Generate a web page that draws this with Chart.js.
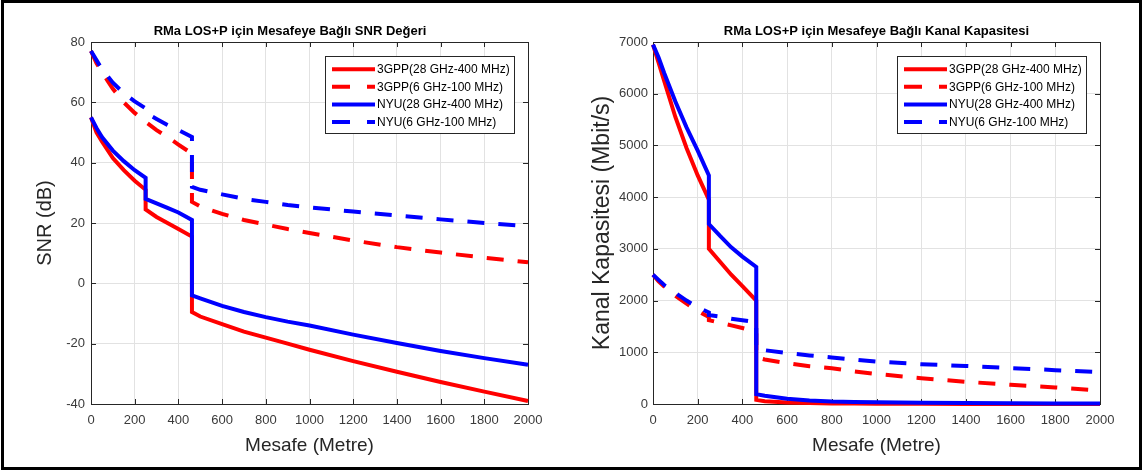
<!DOCTYPE html>
<html>
<head>
<meta charset="utf-8">
<script src="https://cdn.jsdelivr.net/npm/chart.js@4.4.0/dist/chart.umd.min.js"></script>
<style>
  html, body { margin: 0; padding: 0; background: #fff; }
  #sayfa { position: relative; width: 1144px; height: 471px; overflow: hidden; background: #fff; }
  #cerceve { position: absolute; left: 1px; top: 0; width: 1141px; height: 470px; box-sizing: border-box; border: 3px solid #000; pointer-events: none; }
  .kutu { position: absolute; top: 0; height: 471px; }
  #solKutu { left: 0; width: 580px; }
  #sagKutu { left: 572px; width: 572px; }
</style>
</head>
<body>
<div id="sayfa">
  <div class="kutu" id="solKutu"><canvas id="snrChart"></canvas></div>
  <div class="kutu" id="sagKutu"><canvas id="kapasiteChart"></canvas></div>
  <div id="cerceve"></div>
</div>
<script>
// mesafe (m) - 250 ve 462'de sicrama oldugu icin tekrar var
const mesafe = [0, 25, 50, 100, 150, 200, 250, 250, 300, 350, 400, 462, 462, 500, 600, 700, 800, 900, 1000, 1200, 1400, 1600, 1800, 2000];

// SNR (dB)
const snr3gpp28 = [55, 50, 47, 41.5, 37.5, 34, 31, 24.5, 22, 20, 18, 15.5, -9.5, -11, -13.5, -16, -18, -20, -22, -25.8, -29.3, -32.7, -35.9, -39];
const snr3gpp6 = [77, 73, 70, 64.5, 60, 56.5, 53.5, 53.5, 50.8, 48.5, 46, 43, 27, 25.5, 23, 21, 19.5, 18, 16.7, 14.2, 12, 10.2, 8.5, 7];
const snrNyu28 = [55, 51.5, 48.5, 44, 40.5, 37.5, 35, 28, 26.5, 25, 23.5, 21, -4, -5, -7.5, -9.5, -11.2, -12.7, -14, -17, -19.8, -22.4, -24.8, -27];
const snrNyu6 = [77, 74, 71, 66.5, 63, 60.3, 58, 56.5, 54.5, 52.5, 50.8, 48.5, 32, 31, 29.5, 28, 27, 26, 25.2, 23.8, 22.5, 21.2, 20, 19];

// Kanal kapasitesi (Mbit/s)
const kap3gpp28 = [6950, 6600, 6250, 5550, 4950, 4420, 3950, 3000, 2750, 2500, 2280, 2000, 80, 55, 30, 18, 12, 8, 5, 3, 2, 1, 1, 0.5];
const kap3gpp6 = [2500, 2370, 2270, 2090, 1940, 1800, 1680, 1620, 1570, 1520, 1470, 1400, 900, 860, 790, 730, 690, 630, 580, 500, 430, 370, 320, 260];
const kapNyu28 = [6950, 6700, 6400, 5850, 5350, 4900, 4420, 3480, 3250, 3030, 2850, 2650, 190, 160, 100, 70, 50, 40, 32, 22, 17, 13, 11, 9];
const kapNyu6 = [2500, 2400, 2300, 2150, 2000, 1870, 1770, 1720, 1690, 1650, 1620, 1580, 1060, 1040, 985, 940, 900, 860, 820, 770, 735, 695, 655, 615];

const etiketler = ['3GPP(28 GHz-400 MHz)', '3GPP(6 GHz-100 MHz)', 'NYU(28 GHz-400 MHz)', 'NYU(6 GHz-100 MHz)'];
const mesafeTikleri = [0, 200, 400, 600, 800, 1000, 1200, 1400, 1600, 1800, 2000];
const snrTikleri = [-40, -20, 0, 20, 40, 60, 80];
const kapasiteTikleri = [0, 1000, 2000, 3000, 4000, 5000, 6000, 7000];

const renkler = ['#ff0000', '#ff0000', '#0000ff', '#0000ff'];
const kesikli = [false, true, false, true];
const yazi = '"Liberation Sans", Arial, Helvetica, sans-serif';

Chart.defaults.font.family = yazi;

function seriData(ys) {
    return mesafe.map((x, i) => ({ x: x, y: ys[i] }));
}

function datasetler(seriler) {
    return seriler.map((ys, i) => ({
        label: etiketler[i],
        data: seriData(ys),
        borderColor: renkler[i],
        borderWidth: 4,
        borderDash: kesikli[i] ? [17, 14] : [],
        pointRadius: 0,
        tension: 0,
        clip: 6,
        order: 4 - i
    }));
}

// MATLAB tarzi kutu, iceri bakan tikler ve legend
const matlabKutu = {
    id: 'matlabKutu',
    beforeDatasetsDraw(chart) {
        const { ctx, chartArea: a, scales } = chart;
        ctx.save();
        ctx.strokeStyle = '#262626';
        ctx.lineWidth = 1;
        ctx.strokeRect(Math.round(a.left) + 0.5, Math.round(a.top) + 0.5, Math.round(a.right - a.left), Math.round(a.bottom - a.top));
        ctx.beginPath();
        scales.x.ticks.forEach(t => {
            const px = Math.round(scales.x.getPixelForValue(t.value)) + 0.5;
            ctx.moveTo(px, a.bottom); ctx.lineTo(px, a.bottom - 5);
            ctx.moveTo(px, a.top); ctx.lineTo(px, a.top + 5);
        });
        scales.y.ticks.forEach(t => {
            const py = Math.round(scales.y.getPixelForValue(t.value)) + 0.5;
            ctx.moveTo(a.left, py); ctx.lineTo(a.left + 5, py);
            ctx.moveTo(a.right, py); ctx.lineTo(a.right - 5, py);
        });
        ctx.stroke();
        ctx.restore();
    },
    afterDatasetsDraw(chart) {
        const { ctx, chartArea: a } = chart;
        const ds = chart.data.datasets;
        ctx.save();
        ctx.font = '12px ' + yazi;
        const metinW = Math.max(...ds.map(d => ctx.measureText(d.label).width));
        const w = Math.round(52 + metinW + 4);
        const h = 77;
        const x0 = Math.round(a.right - 14 - w);
        const y0 = Math.round(a.top + 14);
        ctx.fillStyle = '#fff';
        ctx.fillRect(x0, y0, w, h);
        ctx.strokeStyle = '#262626';
        ctx.lineWidth = 1;
        ctx.strokeRect(x0 + 0.5, y0 + 0.5, w, h);
        ds.forEach((d, i) => {
            const y = y0 + 13.2 + i * 17.6;
            ctx.strokeStyle = d.borderColor;
            ctx.lineWidth = 4;
            ctx.beginPath();
            if (kesikli[i]) {
                ctx.moveTo(x0 + 7, y); ctx.lineTo(x0 + 25, y);
                ctx.moveTo(x0 + 42, y); ctx.lineTo(x0 + 50, y);
            } else {
                ctx.moveTo(x0 + 7, y); ctx.lineTo(x0 + 50, y);
            }
            ctx.stroke();
            ctx.fillStyle = '#000';
            ctx.textBaseline = 'middle';
            ctx.fillText(d.label, x0 + 52, y + 0.5);
        });
        ctx.restore();
    }
};

function xEkseni() {
    return {
        type: 'linear', min: 0, max: 2000,
        afterBuildTicks: s => { s.ticks = mesafeTikleri.map(v => ({ value: v })); },
        afterFit: s => { s.height = 67; },
        grid: { color: '#e2e2e2', drawTicks: false },
        border: { display: false },
        ticks: { color: '#3a3a3a', font: { size: 13 }, padding: 9, maxRotation: 0, autoSkip: false, callback: v => String(v) },
        title: { display: true, text: 'Mesafe (Metre)', color: '#262626', font: { size: 19 }, padding: { top: 0, bottom: 13.6 } }
    };
}

function yEkseni(min, max, tikler, genislik, baslik, baslikBoy, baslikPad, tikPad) {
    return {
        type: 'linear', min: min, max: max,
        afterBuildTicks: s => { s.ticks = tikler.map(v => ({ value: v })); },
        afterFit: s => { s.width = genislik; },
        grid: { color: '#e2e2e2', drawTicks: false },
        border: { display: false },
        ticks: { color: '#3a3a3a', font: { size: 13 }, padding: tikPad, callback: v => String(v) },
        title: { display: true, text: baslik, color: '#262626', font: { size: baslikBoy }, padding: { top: baslikPad, bottom: 0 } }
    };
}

function baslik(metin, tamGenislik) {
    return {
        display: true, text: metin, color: '#000', fullSize: tamGenislik,
        font: { size: 13, weight: 'bold' },
        padding: { top: 23.7, bottom: 2.7 }
    };
}

new Chart(document.getElementById('snrChart'), {
    type: 'line',
    data: { datasets: datasetler([snr3gpp28, snr3gpp6, snrNyu28, snrNyu6]) },
    options: {
        responsive: true, maintainAspectRatio: false, animation: false,
        layout: { padding: 0 },
        plugins: {
            legend: { display: false },
            tooltip: { enabled: false },
            title: baslik('RMa LOS+P için Mesafeye Bağlı SNR Değeri', true)
        },
        scales: {
            x: xEkseni(),
            y: yEkseni(-40, 80, snrTikleri, 91, 'SNR (dB)', 20, 33, 6),
            y2: {
                position: 'right', display: true,
                afterFit: s => { s.width = 52; },
                ticks: { display: false }, grid: { display: false }, border: { display: false }
            }
        }
    },
    plugins: [matlabKutu]
});

new Chart(document.getElementById('kapasiteChart'), {
    type: 'line',
    data: { datasets: datasetler([kap3gpp28, kap3gpp6, kapNyu28, kapNyu6]) },
    options: {
        responsive: true, maintainAspectRatio: false, animation: false,
        layout: { padding: { left: 0, top: 0, bottom: 0, right: 44 } },
        plugins: {
            legend: { display: false },
            tooltip: { enabled: false },
            title: baslik('RMa LOS+P için Mesafeye Bağlı Kanal Kapasitesi', false)
        },
        scales: {
            x: xEkseni(),
            y: yEkseni(0, 7000, kapasiteTikleri, 81, 'Kanal Kapasitesi (Mbit/s)', 23, 17, 5)
        }
    },
    plugins: [matlabKutu]
});
</script>
</body>
</html>
